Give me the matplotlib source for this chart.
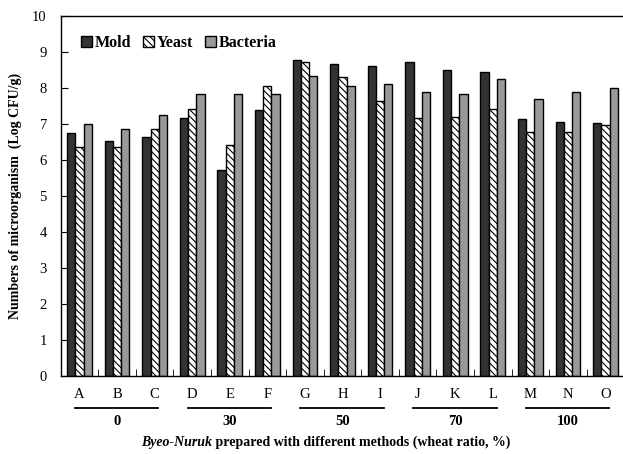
import numpy as np
import matplotlib
matplotlib.use("Agg")
import matplotlib.pyplot as plt
from matplotlib import transforms

plt.rcParams["font.family"] = ["Liberation Serif", "DejaVu Serif"]
plt.rcParams["hatch.linewidth"] = 0.8

samples = list("ABCDEFGHIJKLMNO")
mold = [6.74, 6.54, 6.64, 7.18, 5.71, 7.39, 8.77, 8.67, 8.61, 8.71, 8.49, 8.44, 7.13, 7.06, 7.03]
yeast = [6.37, 6.35, 6.86, 7.41, 6.41, 8.05, 8.71, 8.31, 7.63, 7.16, 7.19, 7.41, 6.78, 6.78, 6.96]
bacteria = [6.99, 6.86, 7.25, 7.82, 7.82, 7.82, 8.34, 8.06, 8.10, 7.90, 7.82, 8.24, 7.69, 7.88, 7.99]
wheat_ratio = ["0", "30", "50", "70", "100"]

W, H = 623, 454
fig = plt.figure(figsize=(W / 100, H / 100), dpi=100)
ax = fig.add_axes([60.7 / W, (H - 376) / H, 563.6 / W, 360 / H])

x = np.arange(len(samples))
bw = 0.22
ax.bar(x - bw, mold, bw, color="#333333", edgecolor="black", linewidth=1.0, label="Mold")
ax.bar(x, yeast, bw, color="white", edgecolor="black", linewidth=1.0, hatch="\\\\\\\\\\", label="Yeast")
ax.bar(x + bw, bacteria, bw, color="#999999", edgecolor="black", linewidth=1.0, label="Bacteria")

ax.set_xlim(-0.5, len(samples) - 0.5)
ax.set_ylim(0, 10)
ax.set_yticks(range(0, 11))
ax.tick_params(axis="y", direction="in", length=5, pad=10, labelsize=10.5)
ax.set_xticks(x)
ax.set_xticklabels(samples)
ax.tick_params(axis="x", which="major", length=0, pad=9, labelsize=10.5)
ax.set_xticks(np.arange(0.5, len(samples) - 1, 1.0), minor=True)
ax.tick_params(axis="x", which="minor", direction="in", length=5)
for s in ax.spines.values():
    s.set_linewidth(1.0)

# group underlines and wheat ratio labels
trans = transforms.blended_transform_factory(ax.transData, ax.transAxes)
for i, lab in enumerate(wheat_ratio):
    c = 3 * i + 1
    ax.plot([c - 1.12, c + 1.1], [-0.089, -0.089], color="black", lw=1.3,
            transform=trans, clip_on=False)
    ax.text(c, -0.127, lab, transform=trans, ha="center", va="center",
            fontsize=10.5, fontweight="bold")

ax.set_ylabel("Numbers of microorganism  (Log CFU/g)", fontsize=10,
              fontweight="bold", labelpad=7)

# x label: italic part + plain bold part
yb = (H - 446) / H
t1 = fig.text(0, yb, "Byeo-Nuruk", fontsize=10, fontweight="bold",
              fontstyle="italic", va="baseline")
t2 = fig.text(0, yb, " prepared with different methods (wheat ratio, %)",
              fontsize=10, fontweight="bold", va="baseline")
fig.canvas.draw()
w1 = t1.get_window_extent().width
w2 = t2.get_window_extent().width
x0 = 325.5 - (w1 + w2) / 2
t1.set_x(x0 / W)
t2.set_x((x0 + w1) / W)

ax.legend(loc="upper left", bbox_to_anchor=(81 / W, 1 - 35 / H),
          bbox_transform=fig.transFigure, ncol=3, frameon=False,
          prop={"weight": "bold", "size": 11.5}, handlelength=0.7,
          handleheight=0.7, handletextpad=0.15, columnspacing=0.75,
          borderpad=0, borderaxespad=0)

fig.savefig("out.png", dpi=100)
